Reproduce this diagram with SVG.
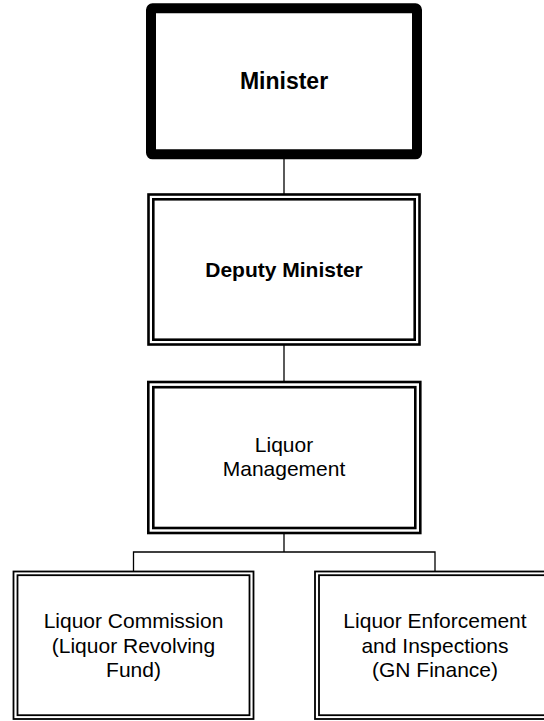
<svg xmlns="http://www.w3.org/2000/svg" width="544" height="721" viewBox="0 0 544 721">
<style>
.bg{fill:#fff}
.thick{fill:#fff;stroke:#000;stroke-width:10;stroke-linejoin:round}
.dbl{fill:none;stroke:#000;stroke-width:2.6}
.dblfill{fill:#fff;stroke:#000;stroke-width:2.6}
.thin{fill:none;stroke:#000;stroke-width:1.8}
.thinfill{fill:#fff;stroke:#000;stroke-width:1.8}
.conn{fill:none;stroke:#000;stroke-width:1.3}
text{font-family:"Liberation Sans",Arial,sans-serif;fill:#000;text-anchor:middle}
.b{font-weight:bold}
</style>
<rect class="bg" x="0" y="0" width="544" height="721"/>
<g id="connectors">
<line class="conn" x1="284" y1="158" x2="284" y2="194"/>
<line class="conn" x1="284" y1="345" x2="284" y2="382"/>
<line class="conn" x1="284" y1="533" x2="284" y2="552"/>
<polyline class="conn" points="133.5,571 133.5,552 435,552 435,571"/>
</g>
<g id="minister">
<rect class="thick" x="151" y="8.3" width="266" height="146" rx="1.5"/>
<text class="b" x="284" y="89" font-size="23">Minister</text>
</g>
<g id="deputy-minister">
<rect class="dblfill" x="148.5" y="194.5" width="271" height="150"/>
<rect class="dbl" x="153.3" y="199.3" width="261.4" height="140.4"/>
<text class="b" x="284" y="277" font-size="21">Deputy Minister</text>
</g>
<g id="liquor-management">
<rect class="dblfill" x="148.3" y="382" width="272" height="151"/>
<rect class="dbl" x="153.3" y="387.2" width="262" height="140.8"/>
<text x="284" y="452" font-size="21">Liquor</text>
<text x="284" y="476" font-size="21">Management</text>
</g>
<g id="liquor-commission">
<rect class="thinfill" x="13.5" y="571.5" width="240" height="147.5"/>
<rect class="thin" x="17.5" y="575.2" width="232" height="140"/>
<text x="133.5" y="628" font-size="21">Liquor Commission</text>
<text x="133.5" y="652.5" font-size="21">(Liquor Revolving</text>
<text x="133.5" y="677" font-size="21">Fund)</text>
</g>
<g id="liquor-enforcement">
<rect class="thinfill" x="315" y="571.5" width="240" height="147.5"/>
<rect class="thin" x="319" y="575.2" width="232" height="140"/>
<text x="435" y="628" font-size="21">Liquor Enforcement</text>
<text x="435" y="652.5" font-size="21">and Inspections</text>
<text x="435" y="677" font-size="21">(GN Finance)</text>
</g>
</svg>
